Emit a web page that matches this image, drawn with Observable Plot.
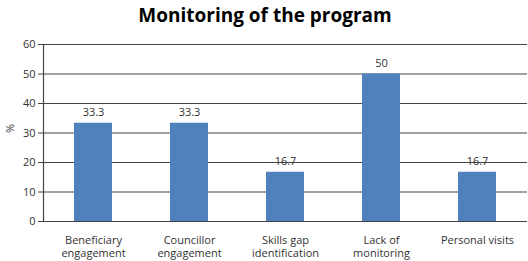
<!DOCTYPE html>
<html><head>
<meta charset="utf-8">
<script src="https://cdn.jsdelivr.net/npm/d3@7"></script>
<script src="https://cdn.jsdelivr.net/npm/@observablehq/plot@0.6"></script>
<style>
body{margin:0;background:#fff;font-family:"Open Sans",sans-serif;}
#title{height:30px;line-height:30px;text-align:center;font-weight:bold;font-size:19px;color:#000;padding-left:2px;}
</style>
</head><body>
<div id="title">Monitoring of the program</div>
<div id="chart"></div>
<script>
const categories = ["Beneficiary\nengagement","Councillor\nengagement","Skills gap\nidentification","Lack of\nmonitoring","Personal visits"];
const values = [33.3, 33.3, 16.7, 50, 16.7];
const labels = ["33.3","33.3","16.7","50","16.7"];
const yTicks = [0,10,20,30,40,50,60];
const data = categories.map((c,i)=>({cat:c, v:values[i], lab:labels[i]}));

const chart = Plot.plot({
  width: 528, height: 231,
  marginLeft: 43, marginRight: 1, marginTop: 14, marginBottom: 40,
  style: {fontFamily: '"Open Sans", sans-serif', fontSize: "11px", color: "#333"},
  x: {domain: categories, paddingInner: 0.6, paddingOuter: 0.3, label: null},
  y: {domain: [0, 60], ticks: yTicks, label: null},
  marks: [
    Plot.ruleY(yTicks, {stroke: "#444", strokeWidth: 1.2}),
    Plot.barY(data, {x: "cat", y: "v", fill: "#4F81BD"}),
    Plot.text(data, {x: "cat", y: "v", text: "lab", dy: -11, fill: "#333", fontSize: 11}),
    Plot.axisY({ticks: yTicks, tickSize: 5, tickPadding: 3, stroke: "#444", fill: "#333", fontSize: 11, label: null}),
    Plot.frame({anchor: "left", stroke: "#444", strokeWidth: 1.2}),
    Plot.axisX({tickSize: 0, tickPadding: 13, fill: "#333", fontSize: 11, label: null, lineHeight: 1.22}),
    Plot.text(["%"], {frameAnchor: "left", dx: -33, rotate: -90, fill: "#333", fontSize: 11})
  ]
});
document.getElementById("chart").appendChild(chart);
</script>
</body></html>
